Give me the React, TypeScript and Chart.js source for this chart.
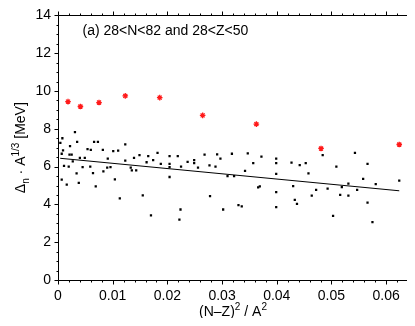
import React, { useEffect, useRef } from 'react';
import { Chart, registerables } from 'chart.js';
Chart.register(...registerables);

const blackX = [
  0.00043, 0.0008, 0.00092, 0.00068, 0.0011, 0.00068, 0.0016, 0.00196, 0.0022, 0.0021,
  0.0025, 0.0027, 0.0031, 0.0035, 0.0034, 0.0038, 0.004, 0.0045, 0.0049, 0.0054,
  0.0059, 0.006, 0.0064, 0.0066, 0.0069, 0.0073, 0.0082, 0.0083, 0.009, 0.0091,
  0.0096, 0.0101, 0.0104, 0.011, 0.0113, 0.0123, 0.0123, 0.0133, 0.0135, 0.0139,
  0.0143, 0.0149, 0.0155, 0.0162, 0.0165, 0.017, 0.0174, 0.0182, 0.0188, 0.0204,
  0.0204, 0.0204, 0.0204, 0.0219, 0.0222, 0.0225, 0.0224, 0.0237, 0.0249, 0.0249,
  0.0256, 0.0268,
  0.0277, 0.0278, 0.0288, 0.0291, 0.0297, 0.0302, 0.031, 0.0318, 0.0322, 0.033,
  0.0336, 0.0342, 0.0347, 0.0357, 0.0366, 0.0369, 0.0372, 0.0399, 0.0399, 0.0399,
  0.0399, 0.0399, 0.0427, 0.043, 0.0433, 0.0437, 0.0442, 0.0453, 0.0458, 0.0464,
  0.0472, 0.0484, 0.0493, 0.0503, 0.0509, 0.0516, 0.0519, 0.0531, 0.0531, 0.0543,
  0.0547, 0.0558, 0.0566, 0.0566, 0.0575, 0.0581, 0.0624,
];
const blackY = [
  7.26, 7.5, 6.86, 6.68, 6.04, 5.31, 5.05, 6.0, 7.08, 6.63,
  6.63, 6.28, 7.83, 7.31, 5.64, 5.14, 6.46, 5.97, 6.46, 6.93,
  6.0, 6.89, 5.66, 7.31, 4.95, 7.31, 6.89, 5.75, 5.95, 6.42,
  5.97, 6.82, 5.33, 6.84, 4.32, 7.17, 6.32, 5.94, 5.8, 6.46,
  5.8, 6.61, 4.48, 6.23, 6.56, 3.42, 6.34, 6.73, 6.15, 6.56,
  6.15, 5.97, 5.45, 6.56, 3.19, 6.0, 3.73, 6.25, 6.34, 6.18,
  5.94, 6.63,
  6.06, 4.44, 6.0, 6.65, 6.42, 3.73, 5.49, 6.68, 5.49, 3.96,
  3.89, 5.78, 6.7, 6.18, 4.9, 4.95, 6.53, 6.42, 6.18, 5.62,
  4.65, 3.85, 6.21, 4.97, 4.24, 4.03, 6.08, 6.18, 5.64, 4.46,
  4.77, 6.61, 4.83, 3.39, 6.0, 4.51, 4.91, 5.1, 4.46, 6.73,
  4.77, 5.35, 6.15, 4.1, 3.06, 5.07, 5.26,
];
const redX = [0.00183, 0.0041, 0.0075, 0.0123, 0.0186, 0.02645, 0.03627, 0.0481, 0.0624];
const redY = [9.44, 9.18, 9.39, 9.74, 9.65, 8.71, 8.25, 6.96, 7.17];
const fitX = [0.0004, 0.0624];
const fitY = [6.44, 4.72];

const xTicks = [0, 0.01, 0.02, 0.03, 0.04, 0.05, 0.06];
const xTickLabels = ['0', '0.01', '0.02', '0.03', '0.04', '0.05', '0.06'];
const yTicks = [0, 2, 4, 6, 8, 10, 12, 14];
const yTickLabels = ['0', '2', '4', '6', '8', '10', '12', '14'];
const titleText = '(a) 28<N<82 and 28<Z<50';

const FONT = '"Liberation Sans", Arial, Helvetica, sans-serif';

const framePlugin = {
  id: 'frame',
  afterDatasetsDraw(chart: any) {
    const ctx = chart.ctx;
    const { left, right, top, bottom } = chart.chartArea;
    const xs = chart.scales.x;
    const ys = chart.scales.y;
    const L = Math.round(left) + 0.5;
    const R = Math.round(right) - 0.5;
    const T = Math.round(top) + 0.5;
    const B = Math.round(bottom) + 0.5;
    ctx.save();
    ctx.lineWidth = 1;
    ctx.strokeStyle = '#000';
    ctx.beginPath();
    ctx.moveTo(L, T); ctx.lineTo(L, B); ctx.lineTo(R, B);
    ctx.moveTo(L, T); ctx.lineTo(R, T);
    ctx.stroke();
    ctx.strokeStyle = '#8a8a8a';
    ctx.beginPath();
    ctx.moveTo(R, T); ctx.lineTo(R, B);
    ctx.stroke();

    const yMinor: number[] = [];
    for (let v = 0; v <= 14.001; v += 0.5) yMinor.push(v);
    yMinor.forEach((v) => {
      const major = Math.abs(v / 2 - Math.round(v / 2)) < 1e-6;
      const len = major ? 4 : 2;
      const py = Math.round(ys.getPixelForValue(v)) + 0.5;
      ctx.strokeStyle = '#000';
      ctx.beginPath(); ctx.moveTo(L, py); ctx.lineTo(L - len, py); ctx.stroke();
      ctx.strokeStyle = '#8a8a8a';
      ctx.beginPath(); ctx.moveTo(R, py); ctx.lineTo(R + len, py); ctx.stroke();
    });
    const xMinor: number[] = [];
    for (let i = 0; i <= 32; i++) xMinor.push(i * 0.002);
    xMinor.forEach((v, i) => {
      const major = i % 5 === 0;
      const len = major ? 4 : 2;
      const px = Math.round(xs.getPixelForValue(v)) + 0.5;
      ctx.strokeStyle = '#000';
      ctx.beginPath(); ctx.moveTo(px, B); ctx.lineTo(px, B + len); ctx.stroke();
      ctx.beginPath(); ctx.moveTo(px, T); ctx.lineTo(px, T - len); ctx.stroke();
    });
    ctx.restore();
  },
  afterDraw(chart: any) {
    const ctx = chart.ctx;
    const { left, right, top, bottom } = chart.chartArea;
    ctx.save();
    ctx.fillStyle = '#000';
    ctx.textBaseline = 'alphabetic';
    ctx.font = `14px ${FONT}`;
    ctx.textAlign = 'left';
    ctx.fillText(titleText, 82.5, 35);

    const big = `14px ${FONT}`;
    const small = `10px ${FONT}`;
    const xParts: [string, boolean][] = [['(N–Z)', false], ['2', true], [' / A', false], ['2', true]];
    let w = 0;
    xParts.forEach(([t, s]) => { ctx.font = s ? small : big; w += ctx.measureText(t).width; });
    let cx = (left + right) / 2 - w / 2;
    const by = 316;
    xParts.forEach(([t, s]) => {
      ctx.font = s ? small : big;
      ctx.fillText(t, cx, s ? by - 6 : by);
      cx += ctx.measureText(t).width;
    });

    const yParts: [string, number][] = [['Δ', 0], ['n', 1], [' · A', 0], ['1/3', -1], [' [MeV]', 0]];
    w = 0;
    yParts.forEach(([t, s]) => { ctx.font = s ? small : big; w += ctx.measureText(t).width; });
    ctx.translate(25, (top + bottom) / 2);
    ctx.rotate(-Math.PI / 2);
    let tx = -w / 2;
    yParts.forEach(([t, s]) => {
      ctx.font = s ? small : big;
      const off = s === 1 ? 4 : s === -1 ? -6 : 0;
      ctx.fillText(t, tx, off);
      tx += ctx.measureText(t).width;
    });
    ctx.restore();
  },
};

export default function App() {
  const ref = useRef<HTMLCanvasElement | null>(null);
  useEffect(() => {
    if (!ref.current) return;
    const chart = new Chart(ref.current, {
      type: 'scatter',
      data: {
        datasets: [
          {
            label: 'data',
            data: blackX.map((x, i) => ({ x, y: blackY[i] })),
            pointStyle: 'rect',
            pointRadius: 1.6,
            backgroundColor: '#000',
            borderWidth: 0,
          },
          {
            label: 'max',
            data: redX.map((x, i) => ({ x, y: redY[i] })),
            pointStyle: 'star',
            pointRadius: 2.8,
            borderColor: '#ff1a1a',
            backgroundColor: '#ff1a1a',
            borderWidth: 1.3,
          },
          {
            label: 'fit',
            type: 'line',
            data: fitX.map((x, i) => ({ x, y: fitY[i] })),
            borderColor: '#000',
            borderWidth: 1,
            pointRadius: 0,
            showLine: true,
            fill: false,
          } as any,
        ],
      },
      options: {
        responsive: false,
        animation: false,
        layout: { padding: { left: 0, top: 13, right: 7, bottom: 0 } },
        plugins: { legend: { display: false }, tooltip: { enabled: false }, title: { display: false } },
        scales: {
          x: {
            type: 'linear',
            min: 0,
            max: 0.064,
            grid: { display: false, drawTicks: false },
            border: { display: false },
            afterBuildTicks: (scale: any) => { scale.ticks = xTicks.map((v) => ({ value: v })); },
            afterFit: (scale: any) => { scale.height = 46; },
            ticks: {
              padding: 8,
              color: '#000',
              font: { family: FONT, size: 14 },
              maxRotation: 0,
              autoSkip: false,
              callback: (_v: any, i: number) => xTickLabels[i],
            },
          },
          y: {
            type: 'linear',
            min: 0,
            max: 14,
            grid: { display: false, drawTicks: false },
            border: { display: false },
            afterBuildTicks: (scale: any) => { scale.ticks = yTicks.map((v) => ({ value: v })); },
            afterFit: (scale: any) => { scale.width = 58; },
            ticks: {
              padding: 7,
              color: '#000',
              font: { family: FONT, size: 14 },
              autoSkip: false,
              callback: (_v: any, i: number) => yTickLabels[i],
            },
          },
        },
      },
      plugins: [framePlugin],
    });
    return () => chart.destroy();
  }, []);
  return (
    <div style={{ position: 'relative', width: 415, height: 326, margin: -8, background: '#fff' }}>
      <canvas ref={ref} width={415} height={326} style={{ display: 'block' }} />
    </div>
  );
}
